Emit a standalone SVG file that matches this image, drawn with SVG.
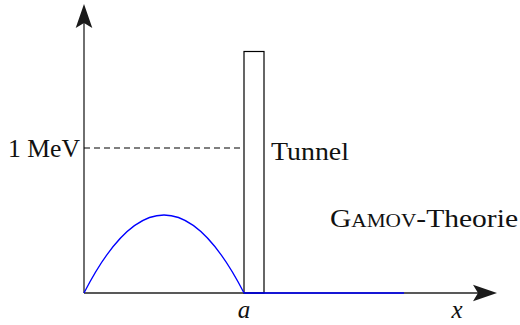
<svg xmlns="http://www.w3.org/2000/svg" width="520" height="325" viewBox="0 0 520 325">
<style>
.axis{stroke:#222;stroke-width:1.3;fill:none}
.bar{stroke:#000;stroke-width:1.2;fill:none}
.blue{stroke:#0000ff;stroke-width:1.3;fill:none}
.dash{stroke:#000;stroke-width:1.2;stroke-dasharray:6 4;fill:none}
</style>
<defs>
<marker id="ah" markerUnits="userSpaceOnUse" markerWidth="26" markerHeight="18" viewBox="0 0 26 18" refX="5" refY="9" orient="auto">
<path d="M0,0.7 L24,9 L0,17.3 L5,9 Z" fill="#1a1a1a"/>
</marker>
</defs>
<g id="connectors">
<line id="y-axis" class="axis" x1="84" y1="293" x2="84" y2="23" marker-end="url(#ah)"/>
<line id="x-axis" class="axis" x1="84" y1="293" x2="478" y2="293" marker-end="url(#ah)"/>
<line id="level" class="dash" x1="84" y1="148" x2="244" y2="148"/>
</g>
<g id="barrier">
<rect class="bar" x="244" y="51.5" width="20" height="241.5"/>
</g>
<g id="wave">
<path class="blue" d="M84,293 Q164,137 244,293"/>
<line class="blue" x1="244" y1="293" x2="404" y2="293"/>
</g>
<g id="labels" fill="#111">
<text x="8" y="157" font-family="Liberation Serif" font-size="25" textLength="72" lengthAdjust="spacingAndGlyphs">1 MeV</text>
<text x="271" y="160" font-family="Liberation Serif" font-size="25" textLength="78" lengthAdjust="spacingAndGlyphs">Tunnel</text>
<text x="330" y="227" font-family="Liberation Serif" font-size="25" textLength="188" lengthAdjust="spacingAndGlyphs">G<tspan font-variant="small-caps">amov</tspan>-Theorie</text>
<text x="244" y="318" font-family="Liberation Serif" font-style="italic" font-size="25" text-anchor="middle">a</text>
<text x="457" y="318" font-family="Liberation Serif" font-style="italic" font-size="25" text-anchor="middle">x</text>
</g>
</svg>
